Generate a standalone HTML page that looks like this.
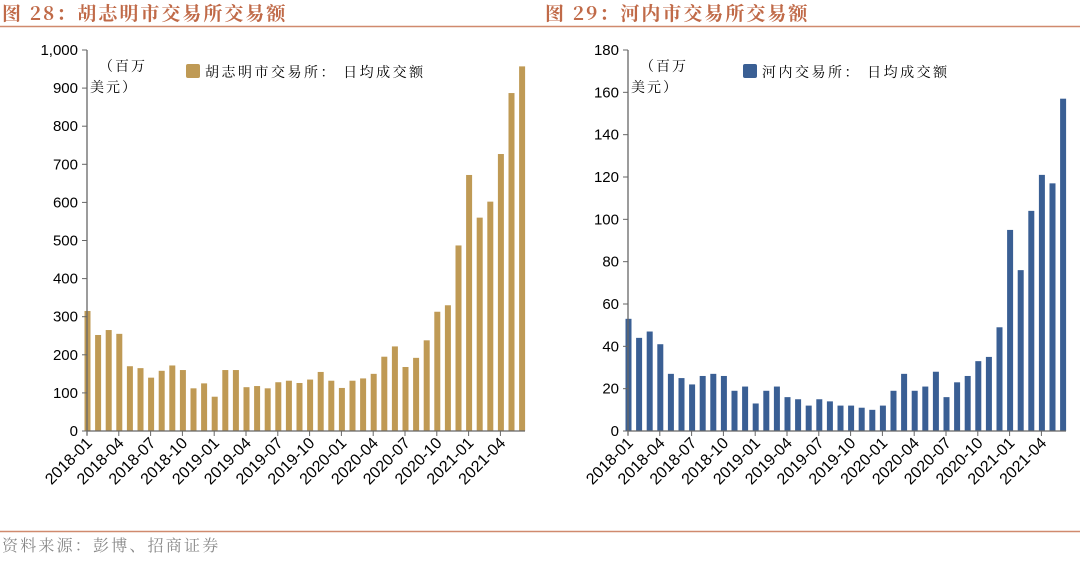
<!DOCTYPE html>
<html><head><meta charset="utf-8"><style>
body{margin:0;background:#fff;width:1080px;height:556px;overflow:hidden}
svg text{font-family:"Liberation Sans","Noto Sans CJK SC",sans-serif}
.cj{font-family:"Noto Serif CJK SC","Noto Sans CJK SC",serif}
</style></head><body>
<svg id="s" width="1080" height="556" xmlns="http://www.w3.org/2000/svg">
<text x="2" y="20" class="cj" font-size="19" font-weight="bold" fill="#c06a48" letter-spacing="2">图 28：胡志明市交易所交易额</text>
<text x="545" y="20" class="cj" font-size="19" font-weight="bold" fill="#c06a48" letter-spacing="2">图 29：河内市交易所交易额</text>
<line x1="0" y1="26.5" x2="1080" y2="26.5" stroke="#d08a6e" stroke-width="1.5"/>
<line x1="0" y1="531.5" x2="1080" y2="531.5" stroke="#d08a6e" stroke-width="1.5"/>
<text x="2" y="551" class="cj" font-size="16" fill="#888" letter-spacing="2.2">资料来源：彭博、招商证券</text>
<g id="L"></g><g id="R"></g>
</svg>
<script>
const months=["2018-01","2018-04","2018-07","2018-10","2019-01","2019-04","2019-07","2019-10","2020-01","2020-04","2020-07","2020-10","2021-01","2021-04"];
const hoseValues=[315,252,265,255,170,165,140,158,172,160,112,125,90,160,160,115,118,112,128,132,126,135,155,132,113,132,138,150,195,222,168,192,238,313,330,487,672,560,602,727,887,957];
const hnxValues=[53,44,47,41,27,25,22,26,27,26,19,21,13,19,21,16,15,12,15,14,12,12,11,10,12,19,27,19,21,28,16,23,26,33,35,49,95,76,104,121,117,157];
const hoseTicks=[0,100,200,300,400,500,600,700,800,900,1000];
const hnxTicks=[0,20,40,60,80,100,120,140,160,180];
const NS="http://www.w3.org/2000/svg";
function el(p,t,a){const e=document.createElementNS(NS,t);for(const k in a)e.setAttribute(k,a[k]);p.appendChild(e);return e;}
function chart(g,x0,vals,ticks,color,legend,fmt){
  const y0=431,yTop=50,max=ticks[ticks.length-1],step=10.6;
  const ys=v=>y0-(v/max)*(y0-yTop);
  const xs=i=>x0+0.5+i*step;
  vals.forEach((v,i)=>{const r=el(g,'rect',{x:xs(i)-3,y:ys(v),width:6,height:y0-ys(v),fill:color});
    
    });
  const ax=el(g,'line',{x1:x0,y1:yTop,x2:x0,y2:y0+4,stroke:'#666','stroke-width':1.3});
  
  const bx=el(g,'line',{x1:x0,y1:y0,x2:x0+438,y2:y0,stroke:'#666','stroke-width':1.3});
  
  ticks.forEach(t=>{el(g,'line',{x1:x0-5,y1:ys(t),x2:x0,y2:ys(t),stroke:'#666'});
    const tx=el(g,'text',{x:x0-9,y:ys(t)+5,'text-anchor':'end','font-size':15,fill:'#000'});tx.textContent=fmt(t);
    });
  months.forEach((m,j)=>{const x=xs(j*3)-0.5;el(g,'line',{x1:x,y1:y0,x2:x,y2:y0+5,stroke:'#666'});
    const tx=el(g,'text',{x:x+6,y:y0+13,'text-anchor':'end','font-size':16,fill:'#000',transform:`rotate(-45 ${x+6} ${y0+13})`});tx.textContent=m;
    });
  const u=el(g,'text',{x:x0+12,y:71,'font-size':14,class:'cj','letter-spacing':2});u.textContent='（百万';
  
  const u2=el(g,'text',{x:x0+3,y:92,'font-size':14,class:'cj','letter-spacing':2});u2.textContent='美元）';
  
  const lx=legend.x;
  const sw=el(g,'rect',{x:lx,y:64,width:14,height:14,rx:2,fill:color});
  
  const lt=el(g,'text',{x:lx+19,y:77,'font-size':14,class:'cj','letter-spacing':'2.5'});lt.textContent=legend.t;
  
}
chart(document.getElementById('L'),87,hoseValues,hoseTicks,'#bf9a55',{x:186,t:'胡志明市交易所： 日均成交额'},t=>t.toLocaleString('en-US'));
chart(document.getElementById('R'),628,hnxValues,hnxTicks,'#3a5f94',{x:743,t:'河内交易所： 日均成交额'},t=>String(t));
</script>
</body></html>
